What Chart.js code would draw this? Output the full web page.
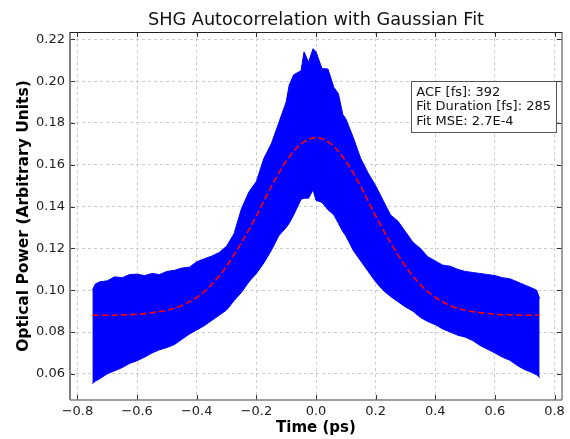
<!DOCTYPE html>
<html>
<head>
<meta charset="utf-8">
<script src="https://cdn.jsdelivr.net/npm/chart.js@4.4.0/dist/chart.umd.min.js"></script>
<style>
  html, body { margin: 0; padding: 0; background: #fff; }
  #wrap { width: 570px; height: 439px; }
</style>
</head>
<body>
<div id="wrap"><canvas id="acfChart" width="570" height="439"></canvas></div>
<script>
// === Data ===
// upper / lower edge of the measured (blue) trace
const envTimes = [
  -0.75, -0.74, -0.725, -0.70, -0.675, -0.65, -0.625, -0.60, -0.575, -0.55,
  -0.525, -0.50, -0.475, -0.45, -0.425, -0.40, -0.375, -0.35, -0.325, -0.30,
  -0.275, -0.25, -0.225, -0.20, -0.175, -0.15, -0.125, -0.10, -0.09, -0.075,
  -0.05, -0.04, -0.025, -0.01, 0.0, 0.02, 0.04, 0.06, 0.075, 0.09,
  0.10, 0.125, 0.15, 0.175, 0.20, 0.225, 0.25, 0.275, 0.30, 0.325,
  0.35, 0.375, 0.40, 0.425, 0.45, 0.475, 0.50, 0.525, 0.55, 0.575,
  0.60, 0.625, 0.65, 0.675, 0.70, 0.725, 0.74, 0.75
];
const upperEdge = [
  0.100, 0.103, 0.104, 0.1045, 0.1064, 0.106, 0.1075, 0.1077, 0.107, 0.108,
  0.1075, 0.109, 0.1095, 0.1106, 0.111, 0.1136, 0.115, 0.1163, 0.118, 0.121,
  0.127, 0.139, 0.147, 0.152, 0.163, 0.170, 0.180, 0.190, 0.198, 0.203,
  0.205, 0.214, 0.209, 0.2155, 0.214, 0.206, 0.2058, 0.197, 0.194, 0.184,
  0.182, 0.173, 0.163, 0.156, 0.150, 0.143, 0.136, 0.133, 0.128, 0.123,
  0.120, 0.116, 0.114, 0.112, 0.1115, 0.110, 0.109, 0.1085, 0.108, 0.1075,
  0.107, 0.106, 0.1055, 0.104, 0.1025, 0.101, 0.100, 0.096
];
const lowerEdge = [
  0.0553, 0.0565, 0.0577, 0.060, 0.0615, 0.063, 0.065, 0.0663, 0.068, 0.070,
  0.0715, 0.0726, 0.074, 0.0765, 0.079, 0.081, 0.083, 0.0855, 0.088, 0.0905,
  0.095, 0.099, 0.104, 0.108, 0.113, 0.119, 0.126, 0.130, 0.132, 0.136,
  0.1435, 0.144, 0.144, 0.148, 0.143, 0.142, 0.1385, 0.136, 0.132, 0.128,
  0.126, 0.119, 0.114, 0.109, 0.104, 0.100, 0.097, 0.0945, 0.092, 0.090,
  0.087, 0.085, 0.0835, 0.0815, 0.080, 0.0785, 0.0776, 0.076, 0.0736, 0.0718,
  0.070, 0.068, 0.0665, 0.064, 0.062, 0.0606, 0.0595, 0.0582
];

// Gaussian fit (red dashed)
const fitTimes = [
  -0.75, -0.70, -0.65, -0.60, -0.55, -0.50, -0.45, -0.40, -0.35, -0.30,
  -0.25, -0.20, -0.15, -0.10, -0.05, 0.0, 0.05, 0.10, 0.15, 0.20,
  0.25, 0.30, 0.35, 0.40, 0.45, 0.50, 0.55, 0.60, 0.65, 0.70, 0.75
];
const fitValues = [
  0.088, 0.088, 0.0882, 0.0885, 0.0893, 0.0904, 0.0927, 0.0966, 0.1027, 0.1115,
  0.1228, 0.1355, 0.1496, 0.1617, 0.1700, 0.173, 0.1700, 0.1617, 0.1496, 0.1355,
  0.1228, 0.1115, 0.1027, 0.0966, 0.0927, 0.0904, 0.0893, 0.0885, 0.0882, 0.088, 0.088
];

const xTicks = [-0.8, -0.6, -0.4, -0.2, 0.0, 0.2, 0.4, 0.6, 0.8];
const yTicks = [0.06, 0.08, 0.10, 0.12, 0.14, 0.16, 0.18, 0.20, 0.22];
const titleText = "SHG Autocorrelation with Gaussian Fit";
const infoLines = ["ACF [fs]: 392", "Fit Duration [fs]: 285", "Fit MSE: 2.7E-4"];

const FONT = "'DejaVu Sans', sans-serif";

function toPoints(xs, ys) {
  return xs.map((x, i) => ({ x: x, y: ys[i] }));
}

function minusSign(s) {
  return s.replace("-", "\u2212");
}

// === Title over the axes, frame, inward ticks and info box (matplotlib look) ===
const framePlugin = {
  id: "frame",
  afterDraw(chart) {
    const { ctx, chartArea: a, scales } = chart;
    ctx.save();

    // title centred on the plot area
    ctx.font = "17.7px " + FONT;
    ctx.fillStyle = "#111";
    ctx.textAlign = "center";
    ctx.textBaseline = "middle";
    ctx.fillText(titleText, (a.left + a.right) / 2, 20);

    // inward tick marks on all four sides
    ctx.strokeStyle = "#333";
    ctx.lineWidth = 1;
    ctx.beginPath();
    xTicks.forEach(v => {
      const px = Math.round(scales.x.getPixelForValue(v)) + 0.5;
      ctx.moveTo(px, a.bottom); ctx.lineTo(px, a.bottom - 5);
      ctx.moveTo(px, a.top); ctx.lineTo(px, a.top + 5);
    });
    yTicks.forEach(v => {
      const py = Math.round(scales.y.getPixelForValue(v)) + 0.5;
      ctx.moveTo(a.left, py); ctx.lineTo(a.left + 5, py);
      ctx.moveTo(a.right, py); ctx.lineTo(a.right - 5, py);
    });
    ctx.stroke();

    // spines
    ctx.strokeStyle = "#808080";
    ctx.lineWidth = 2;
    ctx.beginPath();
    ctx.moveTo(a.left, a.top); ctx.lineTo(a.left, a.bottom);
    ctx.stroke();
    ctx.lineWidth = 1.5;
    ctx.beginPath();
    ctx.moveTo(a.left, a.bottom); ctx.lineTo(a.right, a.bottom);
    ctx.moveTo(a.right, a.bottom); ctx.lineTo(a.right, a.top);
    ctx.stroke();
    ctx.strokeStyle = "#222";
    ctx.lineWidth = 1;
    ctx.beginPath();
    ctx.moveTo(a.left, a.top + 0.5); ctx.lineTo(a.right, a.top + 0.5);
    ctx.stroke();

    // info box
    ctx.font = "13px " + FONT;
    const lineH = 14.5;
    const w = Math.max(...infoLines.map(t => ctx.measureText(t).width));
    const boxRight = a.right - 6;
    const boxTop = a.top + 49;
    const boxW = w + 10;
    const boxH = infoLines.length * lineH + 7;
    const boxLeft = boxRight - boxW;
    ctx.fillStyle = "#fff";
    ctx.fillRect(boxLeft, boxTop, boxW, boxH);
    ctx.strokeStyle = "#555";
    ctx.lineWidth = 1;
    ctx.strokeRect(Math.round(boxLeft) + 0.5, Math.round(boxTop) + 0.5, Math.round(boxW), Math.round(boxH));
    ctx.fillStyle = "#111";
    ctx.textBaseline = "middle";
    ctx.textAlign = "left";
    infoLines.forEach((t, i) => {
      ctx.fillText(t, boxLeft + 5, boxTop + 4 + lineH * (i + 0.5));
    });
    ctx.restore();
  }
};

const ctx = document.getElementById("acfChart").getContext("2d");

new Chart(ctx, {
  type: "line",
  data: {
    datasets: [
      {
        label: "Gaussian Fit",
        data: toPoints(fitTimes, fitValues),
        borderColor: "#ff0000",
        borderWidth: 1.6,
        borderDash: [6.5, 3],
        pointRadius: 0,
        cubicInterpolationMode: "monotone",
        fill: false,
        order: -1
      },
      {
        label: "Upper",
        data: toPoints(envTimes, upperEdge),
        borderColor: "#0000ff",
        backgroundColor: "#0000ff",
        borderWidth: 1,
        pointRadius: 0,
        tension: 0,
        fill: "+1"
      },
      {
        label: "Lower",
        data: toPoints(envTimes, lowerEdge),
        borderColor: "#0000ff",
        borderWidth: 1,
        pointRadius: 0,
        tension: 0,
        fill: false
      }
    ]
  },
  options: {
    responsive: false,
    animation: false,
    layout: { padding: { top: 32, right: 8, bottom: 0, left: 0 } },
    plugins: {
      legend: { display: false },
      tooltip: { enabled: false },
      title: { display: false }
    },
    scales: {
      x: {
        type: "linear",
        min: -0.825,
        max: 0.825,
        afterBuildTicks: s => { s.ticks = xTicks.map(v => ({ value: v })); },
        afterFit: s => { s.height = 39; },
        grid: { color: "#cccccc", lineWidth: 1, drawTicks: false },
        border: { display: false, dash: [3, 3] },
        ticks: {
          padding: 4,
          color: "#222",
          font: { family: FONT, size: 13 },
          maxRotation: 0,
          callback: v => minusSign(Number(v).toFixed(1))
        },
        title: {
          display: true,
          text: "Time (ps)",
          color: "#000",
          font: { family: FONT, size: 15, weight: "bold" },
          padding: { top: 0, bottom: 2 }
        }
      },
      y: {
        min: 0.0475,
        max: 0.2235,
        afterBuildTicks: s => { s.ticks = yTicks.map(v => ({ value: v })); },
        afterFit: s => { s.width = 70; },
        grid: { color: "#cccccc", lineWidth: 1, drawTicks: false },
        border: { display: false, dash: [3, 3] },
        ticks: {
          padding: 5,
          color: "#222",
          font: { family: FONT, size: 13 },
          callback: v => Number(v).toFixed(2)
        },
        title: {
          display: true,
          text: "Optical Power (Arbitrary Units)",
          color: "#000",
          font: { family: FONT, size: 15.5, weight: "bold" },
          padding: { top: 15, bottom: 0 }
        }
      }
    }
  },
  plugins: [framePlugin]
});
</script>
</body>
</html>
